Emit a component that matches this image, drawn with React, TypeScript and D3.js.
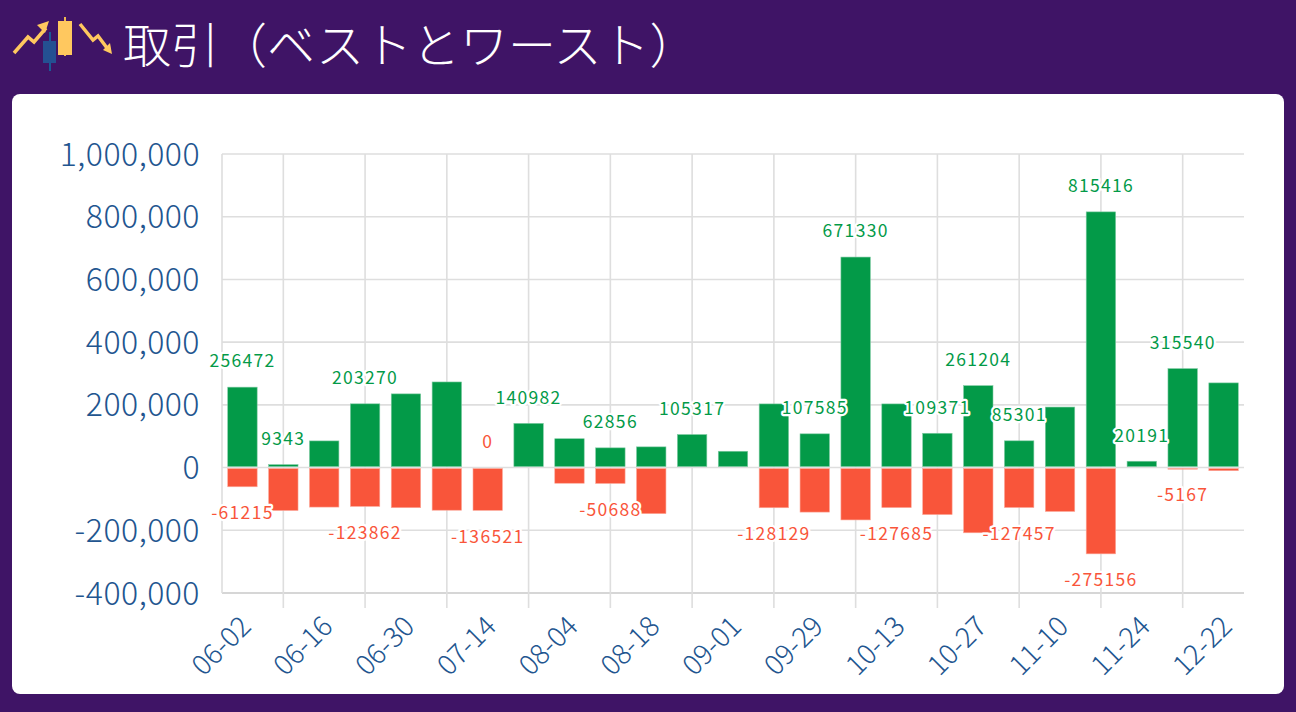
import React from "react";
import * as d3 from "d3";

const dates = ["06-02","06-09","06-16","06-23","06-30","07-07","07-14","07-28","08-04","08-11","08-18","08-25","09-01","09-22","09-29","10-06","10-13","10-20","10-27","11-03","11-10","11-17","11-24","12-15","12-22"];
const bestValues = [256472,9343,85000,203270,235000,273000,0,140982,92000,62856,66000,105317,52000,203000,107585,671330,203000,109371,261204,85301,193000,815416,20191,315540,270000];
const worstValues = [-61215,-137000,-126000,-123862,-128000,-136000,-136521,0,-50000,-50688,-147000,0,0,-128129,-142000,-167000,-127685,-150000,-208000,-127457,-140000,-275156,0,-5167,-10000];
const bestLabelled = [0,1,3,7,9,11,14,15,17,18,19,21,22,23];
const worstLabelled = [0,3,6,9,13,16,19,21,23];
const yTicks = [-400000,-200000,0,200000,400000,600000,800000,1000000];
const titleText = "取引（ベストとワースト）";

const BG = "#3f1466", GREEN = "#039a48", RED = "#f9553a", AXIS = "#22558f", GRID = "#dedede";
const FONT = "'Noto Sans CJK JP','Noto Sans',sans-serif";

export default function App() {
  const x = d3.scaleBand<number>().domain(d3.range(dates.length)).range([222, 1244]).paddingInner(0.28).paddingOuter(0.14);
  const y = d3.scaleLinear().domain([-400000, 1000000]).range([593, 154]);
  const fmt = (t: number) => d3.format(",")(t).replace("−", "-");
  const cx = (i: number) => (x(i) as number) + x.bandwidth() / 2;
  const up = d3.line()([[14,53],[28,37],[34,42],[46,28]]) as string;
  const down = d3.line()([[80,24],[93,40],[98,36],[107,48]]) as string;
  return (
    <svg width={1296} height={712} style={{ position: "absolute", left: 0, top: 0, display: "block" }} fontFamily={FONT}>
      <rect width={1296} height={712} fill={BG} />
      <rect x={12} y={94} width={1272} height={600} rx={8} fill="#fff" />
      <g fill="none" stroke="#ffc85f" strokeWidth={3.5}>
        <path d={up} />
        <path d={down} />
      </g>
      <path d={d3.line()([[49,21],[37,25],[45,33]]) as string} fill="#ffc85f" />
      <path d={d3.line()([[112,54],[103,50],[110,43]]) as string} fill="#ffc85f" />
      <line x1={50} x2={50} y1={32} y2={71} stroke="#1a5a96" strokeWidth={2} />
      <rect x={43} y={41} width={13} height={22} fill="#245092" />
      <line x1={65} x2={65} y1={17} y2={56} stroke="#f0b850" strokeWidth={2} />
      <rect x={58} y={21} width={14} height={34} fill="#ffc85f" />
      <text x={123} y={63} fontSize={48} fontWeight={300} fill="#fff">{titleText}</text>

      {yTicks.map((t) => (
        <line key={t} x1={222} x2={1244} y1={y(t)} y2={y(t)} stroke={t === -400000 ? "#c8c8c8" : GRID} strokeWidth={1.6} />
      ))}
      <line x1={222} x2={222} y1={154} y2={593} stroke={GRID} strokeWidth={1.6} />
      {dates.map((_, i) => i % 2 === 1 ? (
        <line key={i} x1={cx(i)} x2={cx(i)} y1={154} y2={608} stroke={GRID} strokeWidth={1.6} />
      ) : null)}
      {yTicks.map((t) => (
        <text key={t} x={200} y={y(t)} dy="0.36em" textAnchor="end" fontSize={32} letterSpacing={0.5} fontWeight={300} fill={AXIS}>{fmt(t)}</text>
      ))}
      {dates.map((d, i) => i % 2 === 0 ? (
        <text key={d} transform={`translate(${cx(i) + 3},${621}) rotate(-45)`} textAnchor="end" dy="0.36em" fontSize={28} fontWeight={300} fill={AXIS}>{d}</text>
      ) : null)}

      {bestValues.map((v, i) => v > 0 ? (
        <rect key={i} x={x(i)} y={y(v)} width={x.bandwidth()} height={y(0) - y(v) - 1} fill={GREEN} stroke="#7fcba3" strokeWidth={0.6} />
      ) : null)}
      {worstValues.map((v, i) => v < 0 ? (
        <rect key={i} x={x(i)} y={y(0) + 1} width={x.bandwidth()} height={y(v) - y(0) - 1} fill={RED} stroke="#fca99b" strokeWidth={0.6} />
      ) : null)}

      <g fontSize={17.5} textAnchor="middle" letterSpacing={1.3} stroke="#fff" strokeWidth={4.5} strokeLinejoin="round" paintOrder="stroke">
        {bestLabelled.filter((i) => bestValues[i] > 0).map((i) => (
          <text key={i} x={cx(i)} y={y(bestValues[i]) - 26} dy="0.36em" fill={GREEN}>{bestValues[i]}</text>
        ))}
        {worstLabelled.map((i) => (
          <text key={i} x={cx(i)} y={y(worstValues[i]) + 26} dy="0.36em" fill={RED}>{worstValues[i]}</text>
        ))}
        <text x={cx(6)} y={442} dy="0.36em" fill={RED}>{bestValues[6]}</text>
      </g>
    </svg>
  );
}
